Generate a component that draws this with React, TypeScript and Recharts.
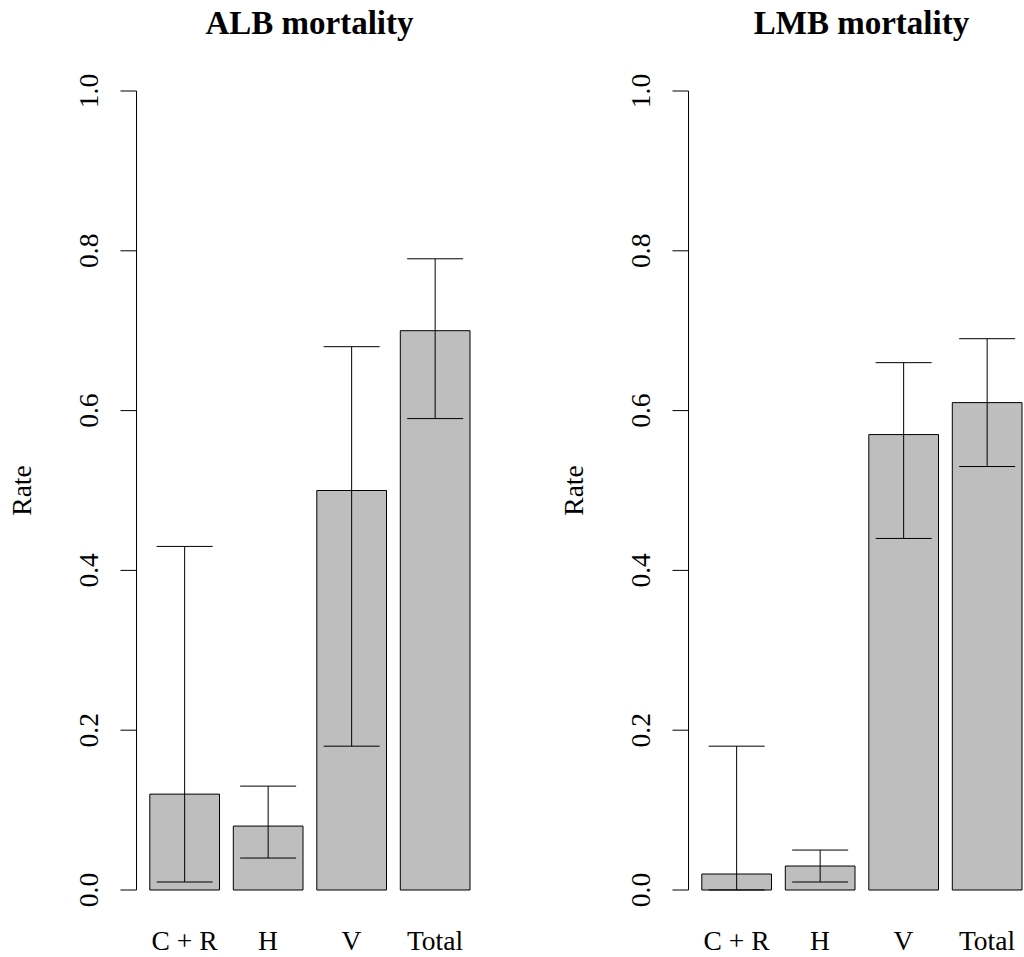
import { BarChart, Bar, XAxis, YAxis, ErrorBar, Label } from 'recharts';

// mortality rates with interval bounds, one entry per cause
const categories = ['C + R', 'H', 'V', 'Total'];
const rateTicks = [0, 0.2, 0.4, 0.6, 0.8, 1.0];

const albRate = [0.12, 0.08, 0.5, 0.7];
const albLower = [0.01, 0.04, 0.18, 0.59];
const albUpper = [0.43, 0.13, 0.68, 0.79];

const lmbRate = [0.02, 0.03, 0.57, 0.61];
const lmbLower = [0.0, 0.01, 0.44, 0.53];
const lmbUpper = [0.18, 0.05, 0.66, 0.69];

const FONT = '"Liberation Serif", "Times New Roman", Times, serif';
const PANEL_W = 552;
const PANEL_H = 957;

// ErrorBar wants deltas below/above the bar value
function buildRows(rate: number[], lower: number[], upper: number[]) {
  return categories.map((cat, i) => ({
    cat,
    rate: rate[i],
    err: [rate[i] - lower[i], upper[i] - rate[i]],
  }));
}

function RateTick({ x, y, payload }: any) {
  return (
    <text
      x={x}
      y={y}
      transform={`rotate(-90, ${x}, ${y})`}
      textAnchor="middle"
      fontFamily={FONT}
      fontSize={27.5}
      fill="#000"
    >
      {Number(payload.value).toFixed(1)}
    </text>
  );
}

function CatTick({ x, y, payload }: any) {
  return (
    <text x={x} y={y} textAnchor="middle" fontFamily={FONT} fontSize={27.5} fill="#000">
      {payload.value}
    </text>
  );
}

function RateLabel(props: any) {
  const vb = props.viewBox || { x: 0, y: 91, width: 136.5, height: 799 };
  const x = vb.x + 31;
  const y = vb.y + vb.height / 2;
  return (
    <text
      x={x}
      y={y}
      transform={`rotate(-90, ${x}, ${y})`}
      textAnchor="middle"
      fontFamily={FONT}
      fontSize={27.5}
      fill="#000"
    >
      Rate
    </text>
  );
}

function MortalityPanel({ title, rows, left }: { title: string; rows: any[]; left: number }) {
  return (
    <div style={{ position: 'absolute', left, top: 0, width: PANEL_W, height: PANEL_H }}>
      <div
        style={{
          position: 'absolute',
          left: 0,
          top: 7,
          width: 619,
          textAlign: 'center',
          fontFamily: FONT,
          fontWeight: 'bold',
          fontSize: 33,
          lineHeight: '33px',
          color: '#000',
        }}
      >
        {title}
      </div>
      <BarChart
        width={PANEL_W}
        height={PANEL_H}
        data={rows}
        margin={{ top: 91, right: 68.9, bottom: 0, left: 0 }}
      >
        <XAxis
          dataKey="cat"
          axisLine={false}
          tickLine={false}
          tickSize={0}
          tickMargin={60}
          height={67}
          interval={0}
          padding={{ left: 6.3, right: 6.3 }}
          tick={<CatTick />}
        />
        <YAxis
          type="number"
          domain={[0, 1]}
          ticks={rateTicks}
          interval={0}
          width={136.5}
          axisLine={{ stroke: '#000', strokeWidth: 1 }}
          tickLine={{ stroke: '#000', strokeWidth: 1 }}
          tickSize={16}
          tickMargin={22.5}
          tick={<RateTick />}
        >
          <Label content={RateLabel} />
        </YAxis>
        <Bar
          dataKey="rate"
          fill="#bebebe"
          stroke="#000"
          strokeWidth={1}
          barSize={69.7}
          isAnimationActive={false}
        >
          <ErrorBar dataKey="err" width={28} stroke="#000" strokeWidth={1} isAnimationActive={false} />
        </Bar>
      </BarChart>
    </div>
  );
}

export default function App() {
  return (
    <div
      style={{
        position: 'absolute',
        left: 0,
        top: 0,
        width: 1024,
        height: 957,
        overflow: 'hidden',
        background: '#fff',
      }}
    >
      <MortalityPanel title="ALB mortality" rows={buildRows(albRate, albLower, albUpper)} left={0} />
      <MortalityPanel title="LMB mortality" rows={buildRows(lmbRate, lmbLower, lmbUpper)} left={552} />
    </div>
  );
}
